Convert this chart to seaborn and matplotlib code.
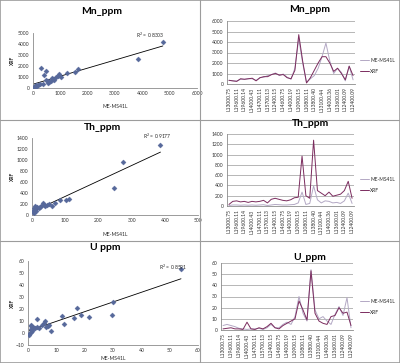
import numpy as np
import pandas as pd
import matplotlib
matplotlib.use('Agg')
import matplotlib.pyplot as plt
import seaborn as sns
from matplotlib.lines import Line2D

# ---- scatter data: ME-MS41L (x) vs XRF (y) ----
mn_me = [4750, 3850, 1660, 1540, 1260, 960, 1020, 840, 720, 780, 600, 480, 300, 460, 420,
         240, 120, 60, 360, 540, 650, 900, 200, 150, 80, 30, 700, 550]
mn_xrf = [4150, 2600, 1690, 1470, 1380, 1260, 1000, 960, 860, 700, 550, 700, 1780, 1530, 1170,
          400, 250, 150, 400, 460, 600, 1050, 300, 200, 120, 80, 900, 650]
th_me = [387, 275, 248, 110, 103, 85, 68, 50, 33, 37, 27, 15, 5, 3, 5, 10, 20, 13, 45, 60,
         8, 25, 40, 2]
th_xrf = [1266, 959, 494, 295, 277, 265, 211, 193, 223, 181, 163, 145, 120, 72, 42, 163, 120,
          80, 181, 163, 100, 140, 160, 60]
u_me = [54, 30, 29.5, 21.5, 18.8, 16.3, 17.2, 12, 12.7, 8, 7, 6, 5.5, 4, 3, 3, 2, 1.5, 1, 1,
        1, 0.8, 0.5, 1.2, 1.7, 2.5, 6.5, 7.5, 5]
u_xrf = [53, 26, 15, 13.5, 15, 12.5, 21, 14.5, 7.5, 2, 6, 10, 8, 4, 12, 5, 4, 2, 7, 6,
         3, 0, -2, 1, 5, 4, 5, 7, 7]
r2_labels = ['R$^2$ = 0.8303', 'R$^2$ = 0.9177', 'R$^2$ = 0.8591']

# ---- line data per sample ----
mn_line_me = [350, 300, 280, 450, 450, 500, 500, 350, 600, 650, 800, 900, 1050, 800, 950, 650,
              450, 1500, 4300, 2000, 150, 500, 800, 1500, 2600, 3900, 2200, 1000, 1500, 1100,
              300, 1700, 400]
mn_line_xrf = [350, 300, 250, 500, 450, 500, 550, 300, 600, 700, 700, 900, 1000, 850, 900, 600,
               500, 1300, 4700, 2200, 100, 600, 1300, 2000, 2600, 2600, 2000, 1200, 1500, 1000,
               400, 1700, 800]
th_line_me = [10, 20, 20, 15, 20, 15, 20, 15, 20, 25, 10, 20, 30, 25, 20, 20, 25, 30, 60, 270,
              30, 50, 390, 120, 60, 100, 90, 60, 70, 50, 100, 250, 50]
th_line_xrf = [30, 90, 100, 80, 90, 70, 90, 80, 90, 110, 60, 130, 150, 130, 110, 100, 120, 160,
               170, 970, 200, 150, 1280, 300, 250, 200, 270, 190, 210, 230, 300, 480, 150]
u_line_me = [4, 5, 4, 3, 1.5, 1, 0.5, 1, 1, 1.5, 0.5, 2, 5, 2, 2, 5, 7, 5, 12, 30, 15, 8, 54,
             18, 10, 12, 8, 5, 14, 21, 13, 29, 2]
u_line_xrf = [1, 1.5, 2, 1, 1, 0.5, 7, 1, 0.5, 2, 1, 3, 6, 2, 1, 4, 6, 8, 10, 26, 18, 9, 53,
              15, 8, 6, 5, 12, 13, 20, 15, 16, 4]
tick_labels = ['L13000.75', 'L19600.11', 'L19600.14', 'L14000.43', 'L14700.11', 'L15700.13',
               'L12400.15', 'L14600.75', 'L14000.19', 'L10900.15', 'L10800.11', 'L13800.40',
               'L13100.44', 'L14000.36', 'L13600.01', 'L12400.09', 'L12400.09']

sns.set_style('white')
plt.rcParams['font.family'] = ['Lato', 'DejaVu Sans']

fig = plt.figure(figsize=(4.0, 3.63), dpi=100)
W, H = 400, 363


def px_axes(l, r, t, b):
    return fig.add_axes([l / W, 1 - b / H, (r - l) / W, (b - t) / H])


axis_col = '#8a8a8a'
pt_col = '#56689a'
me_col = '#b3a8c4'
xrf_col = '#7b2c5e'
fs = 3.6
title_fs = 7.5


def style(ax):
    for s in ['top', 'right']:
        ax.spines[s].set_visible(False)
    for s in ['left', 'bottom']:
        ax.spines[s].set_color(axis_col)
        ax.spines[s].set_linewidth(0.6)
    ax.tick_params(labelsize=fs, length=1.5, width=0.5, color=axis_col, pad=1, colors='#333333')
    ax.set_xlabel('')
    ax.set_ylabel('')


# ---- scatter panels ----
scatters = [
    (mn_me, mn_xrf, 'Mn_ppm', (33, 197, 33, 88), (0, 6000, 1000), (0, 5000, 1000),
     (102, 12), (150, 35), 107),
    (th_me, th_xrf, 'Th_ppm', (32, 198, 138, 215), (0, 500, 100), (0, 1400, 200),
     (103, 128), (157, 136), 234),
    (u_me, u_xrf, 'U ppm', (28, 198, 261, 345), (0, 60, 10), (-10, 60, 10),
     (105, 248), (173, 267), 359),
]
for i, (xv, yv, title, box, xt, yt, tpos, rpos, xly) in enumerate(scatters):
    ax = px_axes(*box)
    df = pd.DataFrame({'ME-MS41L': xv, 'XRF': yv})
    sns.regplot(data=df, x='ME-MS41L', y='XRF', ax=ax, scatter=False, ci=None, truncate=True,
                line_kws={'color': 'black', 'lw': 0.6})
    sns.scatterplot(data=df, x='ME-MS41L', y='XRF', ax=ax, marker='D', s=7, color=pt_col,
                    edgecolor=pt_col, linewidth=0.2, zorder=3)
    ax.set_xlim(xt[0], xt[1])
    ax.set_ylim(yt[0], yt[1])
    ax.set_xticks(np.arange(xt[0], xt[1] + 1, xt[2]))
    ax.set_yticks(np.arange(yt[0], yt[1] + 1, yt[2]))
    style(ax)
    l, r, t, b = box
    fig.text(tpos[0] / W, 1 - tpos[1] / H, title, ha='center', va='center',
             fontsize=title_fs, fontweight='bold', color='black')
    fig.text(rpos[0] / W, 1 - rpos[1] / H, r2_labels[i], ha='center', va='center', fontsize=3.6)
    fig.text((l + r) / 2 / W, 1 - xly / H, 'ME-MS41L', ha='center', va='center',
             fontsize=3.6)
    fig.text(12 / W, 1 - (t + b) / 2 / H, 'XRF', ha='center', va='center', rotation=90,
             fontsize=3.6, fontweight='bold')

# ---- line panels ----
lines = [
    (mn_line_me, mn_line_xrf, 'Mn_ppm', (227, 355, 21, 84), (0, 6000, 1000), (310, 10), 66),
    (th_line_me, th_line_xrf, 'Th_ppm', (227, 354, 134, 206), (0, 1400, 200), (310, 124), 185),
    (u_line_me, u_line_xrf, 'U_ppm', (221, 353, 263, 330), (0, 60, 10), (310, 257), 307),
]
for me, xrf, title, box, yt, tpos, legy in lines:
    ax = px_axes(*box)
    n = len(me)
    df = pd.DataFrame({'sample': np.tile(np.arange(n), 2),
                       'value': me + xrf,
                       'method': ['ME-MS41L'] * n + ['XRF'] * n})
    sns.lineplot(data=df, x='sample', y='value', hue='method', ax=ax,
                 palette={'ME-MS41L': me_col, 'XRF': xrf_col}, lw=0.7)
    ax.set_xlim(-0.5, n - 0.5)
    ax.set_ylim(yt[0], yt[1])
    ax.set_yticks(np.arange(yt[0], yt[1] + 1, yt[2]))
    ax.set_xticks(np.arange(0, n, 2))
    ax.set_xticklabels(tick_labels[:len(range(0, n, 2))], rotation=90)
    ax.yaxis.grid(True, color='#9a9a9a', lw=0.5)
    style(ax)
    leg = ax.legend(loc='center left', frameon=False, fontsize=3.5, handlelength=1.8,
                    handletextpad=0.3, borderpad=0, borderaxespad=0,
                    bbox_to_anchor=(360 / W, 1 - legy / H), bbox_transform=fig.transFigure,
                    labelspacing=1.2)
    for h in leg.get_lines():
        h.set_linewidth(0.7)
    fig.text(tpos[0] / W, 1 - tpos[1] / H, title, ha='center', va='center',
             fontsize=title_fs, fontweight='bold', color='black')

# panel borders
bc = '#9c9c9c'
fig.add_artist(Line2D([200 / W, 200 / W], [0, 1], color=bc, lw=0.8))
fig.add_artist(Line2D([0, 1], [1 - 120 / H, 1 - 120 / H], color=bc, lw=0.8))
fig.add_artist(Line2D([0, 1], [1 - 241 / H, 1 - 241 / H], color=bc, lw=0.8))
fig.add_artist(plt.Rectangle((0, 0), 1, 1, fill=False, ec=bc, lw=1.2, transform=fig.transFigure))

fig.savefig('out.png', dpi=100)
